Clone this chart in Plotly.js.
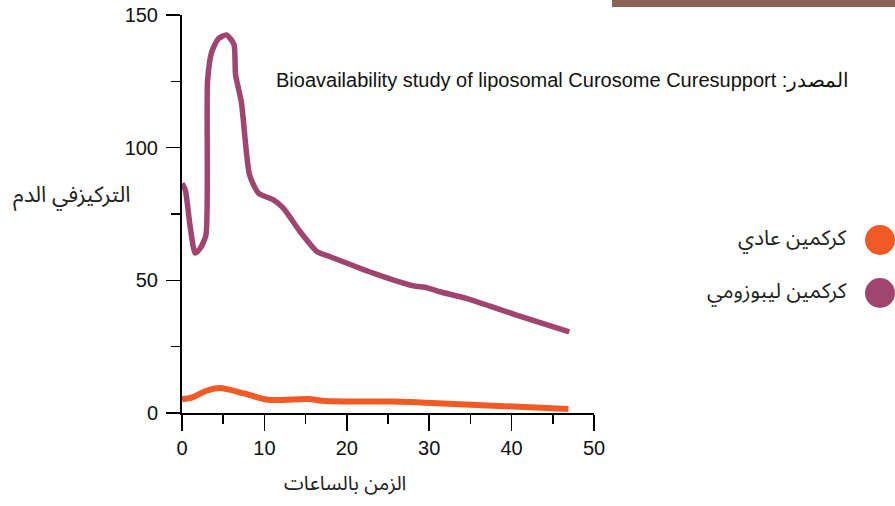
<!DOCTYPE html>
<html>
<head>
<meta charset="utf-8">
<script src="https://cdn.plot.ly/plotly-3.0.1.min.js"></script>
<style>html,body{margin:0;padding:0;background:#fff;}#chart{width:895px;height:506px;}</style>
</head>
<body>
<div id="chart"></div>
<script>
// ---- data ----
const hoursLipo = [0, 0.4, 1.0, 1.6, 2.2, 2.9, 3.1, 3.6, 4.4, 5.4, 6.3, 6.5, 7.2, 8.2, 9.3, 11.1, 12.3, 14.3, 16.4, 18.0, 23.2, 28.1, 29.5, 31.3, 34.5, 40.6, 47.0];
const lipoConc =  [86.5, 84, 70, 60.3, 62, 67, 125, 136, 141, 142.5, 139, 127.4, 117.3, 89.7, 82.8, 80.3, 77.2, 68.5, 60.8, 58.9, 52.7, 47.9, 47.4, 45.7, 43.2, 36.9, 30.6];
const hoursNormal = [0, 1.2, 2.8, 4.6, 7.5, 10.5, 15.3, 17.4, 23.0, 25.6, 33.7, 46.9];
const normalConc =  [5.3, 5.8, 8.2, 9.4, 7.4, 5.0, 5.3, 4.5, 4.3, 4.3, 3.3, 1.5];
const seriesNames = ["كركمين عادي", "كركمين ليبوزومي"];
const seriesColors = ["#F15A24", "#A0456F"];
const yTicks = [0, 50, 100, 150];
const xTicks = [0, 10, 20, 30, 40, 50];
const yTitle = "التركيزفي الدم";
const xTitle = "الزمن بالساعات";
const sourceText = "Bioavailability study of liposomal Curosome Curesupport :المصدر";

// ---- layout helpers (pixel -> paper) ----
const W = 895, H = 506;
const M = {l: 182, r: 301, t: 15, b: 93};
const pw = W - M.l - M.r, ph = H - M.t - M.b;
const px = x => (x - M.l) / pw;
const py = y => (H - M.b - y) / ph;

const arabicFont = "Noto Sans Arabic, DejaVu Sans, sans-serif";
const latinFont = "Liberation Sans, Arial, sans-serif";

const traces = [
  {x: hoursNormal, y: normalConc, name: seriesNames[0], type: "scatter", mode: "lines",
   line: {color: seriesColors[0], width: 6, shape: "spline", smoothing: 0.8}, hoverinfo: "skip"},
  {x: hoursLipo, y: lipoConc, name: seriesNames[1], type: "scatter", mode: "lines",
   line: {color: seriesColors[1], width: 5.5, shape: "spline", smoothing: 0.6}, hoverinfo: "skip"}
];

const legendY = [240, 293];
const shapes = [
  {type: "rect", xref: "paper", yref: "paper", x0: px(612), x1: px(895), y0: py(7), y1: py(0),
   fillcolor: "#8A6455", line: {width: 0}, layer: "above"}
];
const annotations = [
  {xref: "paper", yref: "paper", x: px(851), y: py(80), xanchor: "right", yanchor: "middle",
   text: sourceText, showarrow: false, font: {family: latinFont, size: 20, color: "#111"}},
  {xref: "paper", yref: "paper", x: px(132), y: py(195), xanchor: "right", yanchor: "middle",
   text: yTitle, showarrow: false, font: {family: arabicFont, size: 22, color: "#222"}},
  {xref: "paper", yref: "paper", x: px(345), y: py(506), xanchor: "center", yanchor: "bottom",
   borderpad: 0, text: xTitle, showarrow: false, font: {family: arabicFont, size: 20, color: "#222"}}
];
seriesNames.forEach((n, i) => {
  shapes.push({type: "circle", xref: "paper", yref: "paper", xsizemode: "pixel", ysizemode: "pixel",
    xanchor: px(880), yanchor: py(legendY[i]), x0: -15, x1: 15, y0: -15, y1: 15,
    fillcolor: seriesColors[i], line: {width: 0}});
  annotations.push({xref: "paper", yref: "paper", x: px(849), y: py(legendY[i] - 2), xanchor: "right", yanchor: "middle",
    text: n, showarrow: false, font: {family: arabicFont, size: 21, color: "#222"}});
});

const layout = {
  width: W, height: H,
  margin: M,
  paper_bgcolor: "#fff", plot_bgcolor: "#fff",
  showlegend: false,
  xaxis: {range: [0, 50], tickvals: xTicks, ticktext: xTicks.map(String), showgrid: false, zeroline: false,
    showline: true, linecolor: "#000", linewidth: 2, ticks: "outside", ticklen: 16, tickwidth: 1.5, tickcolor: "#000",
    minor: {dtick: 5, tick0: 0, ticks: "outside", ticklen: 9, tickwidth: 1.5, tickcolor: "#000", showgrid: false},
    tickfont: {family: latinFont, size: 20, color: "#111"}, fixedrange: true},
  yaxis: {range: [0, 150], tickvals: yTicks, ticktext: yTicks.map(String), showgrid: false, zeroline: false,
    showline: true, linecolor: "#000", linewidth: 2, ticks: "outside", ticklen: 14, tickwidth: 1.5, tickcolor: "#000",
    minor: {dtick: 25, tick0: 0, ticks: "outside", ticklen: 9, tickwidth: 1.5, tickcolor: "#000", showgrid: false},
    tickfont: {family: latinFont, size: 20, color: "#111"}, ticklabelstandoff: 4, fixedrange: true},
  shapes: shapes,
  annotations: annotations
};

Plotly.newPlot("chart", traces, layout, {staticPlot: true, displayModeBar: false});
</script>
</body>
</html>
